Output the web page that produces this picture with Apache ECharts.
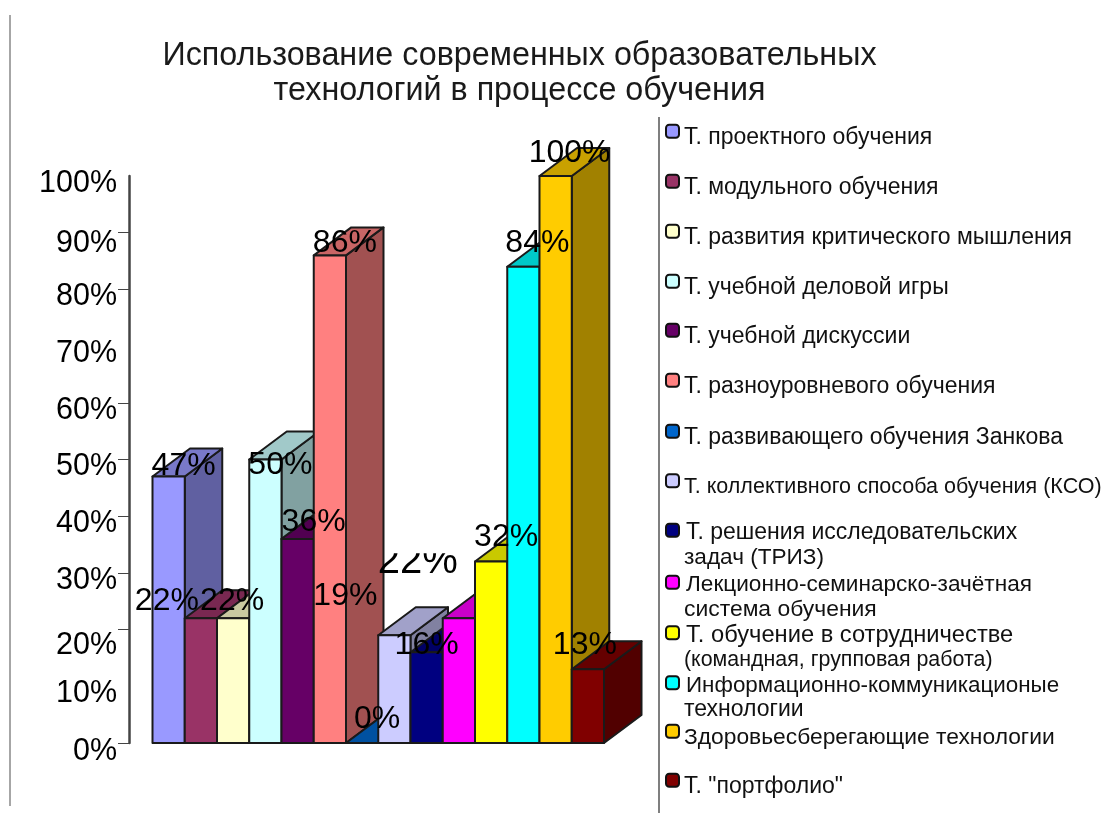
<!DOCTYPE html>
<html><head><meta charset="utf-8">
<style>html,body{margin:0;padding:0;background:#fff}#c{width:1120px;height:813px}</style>
<script src="https://cdn.jsdelivr.net/npm/echarts@6/dist/echarts.min.js"></script>
</head><body><div id="c"></div>
<script>
const titleText = 'Использование современных образовательных\nтехнологий в процессе обучения';
const categories = [
  'Т. проектного обучения','Т. модульного обучения','Т. развития критического мышления',
  'Т. учебной деловой игры','Т. учебной дискуссии','Т. разноуровневого обучения',
  'Т. развивающего обучения Занкова','Т. коллективного способа обучения (КСО)',
  'Т. решения исследовательских\nзадач (ТРИЗ)','Лекционно-семинарско-зачётная\nсистема обучения',
  'Т. обучение в сотрудничестве\n(командная, групповая работа)','Информационно-коммуникационые\nтехнологии',
  'Здоровьесберегающие технологии','Т. "портфолио"'];
const values = [47,22,22,50,36,86,0,19,16,22,32,84,100,13];
const colors = ['#9999FF','#993366','#FFFFCC','#CCFFFF','#660066','#FF8080','#0066CC','#CCCCFF','#000080','#FF00FF','#FFFF00','#00FFFF','#FFCC00','#800000'];

// layout, not data
const DEPTH_X = 37.5, DEPTH_Y = 28;
const labelNudge = [[15,-10],[-34,-17],[-1,-17],[15,6],[16,-17],[15,-12],[15,-24],[-49,-39],[0,-7],[-41,-56],[15,-24],[14,-24],[14,-23],[-3,-24]];
const legendMarkerY = [132,182,232,282,331,381,432,482,531,583,633,684,732,781];
const legendFont = [[23],[23],[23],[23],[23],[23],[23],[21.5],[23,22.6],[22.6,22.9],[23.7,21.4],[22.4,23],[22.8],[23]];

function shade(hex,k){const n=parseInt(hex.slice(1),16);
  return 'rgb('+[(n>>16)&255,(n>>8)&255,n&255].map(v=>Math.round(v*k)).join(',')+')';}

function barSeries(i){
  return {
    name: categories[i], type:'custom', coordinateSystem:'cartesian2d', clip:false, z:2,
    encode:{x:0,y:1}, data:[[i,values[i]]],
    renderItem(params,api){
      const w = api.size([1,0])[0];
      const top = api.coord([api.value(0),api.value(1)]);
      const base = api.coord([api.value(0),0]);
      const x0 = top[0]-w/2, x1 = top[0]+w/2, yT = top[1], yB = base[1];
      const line = {stroke:'#1a1a1a',lineWidth:2,lineJoin:'round'};
      const poly = (pts,fill)=>({type:'polygon',shape:{points:pts},style:Object.assign({fill},line)});
      return {type:'group',children:[
        poly([[x1,yB],[x1+DEPTH_X,yB-DEPTH_Y],[x1+DEPTH_X,yT-DEPTH_Y],[x1,yT]],shade(colors[i],0.63)),
        poly([[x0,yT],[x0+DEPTH_X,yT-DEPTH_Y],[x1+DEPTH_X,yT-DEPTH_Y],[x1,yT]],shade(colors[i],0.79)),
        poly([[x0,yB],[x1,yB],[x1,yT],[x0,yT]],colors[i])
      ]};
    }
  };
}
const labelSeries = {
  name:'подписи', type:'custom', coordinateSystem:'cartesian2d', clip:false, z:5, silent:true,
  encode:{x:0,y:1}, data:values.map((v,i)=>[i,v]),
  renderItem(params,api){
    const i = api.value(0), p = api.coord([i,api.value(1)]), big = i===9;
    const el = {type:'text',x:p[0]+labelNudge[i][0],y:p[1]+labelNudge[i][1],
      style:{text:api.value(1)+'%',fill:'#000',align:'center',verticalAlign:'middle',
        font:(big?40:32)+'px "Liberation Sans"'}};
    if(big) el.clipPath={type:'rect',shape:{x:-60,y:-9,width:120,height:50}};
    return el;
  }
};
const labelShift = {100:15,90:21,80:15,70:15,60:15,50:15,40:15,30:15,20:31,10:15,0:17};
const rich = {};
Object.keys(labelShift).forEach(k=>{rich['v'+k]={fontFamily:'Liberation Sans',fontSize:30.5,color:'#000',padding:[labelShift[k],0,0,0]};});

const LH = 24.5;
const legends = categories.map((name,i)=>{
  const lines = name.split('\n'), multi = lines.length>1, pad = multi?30:12;
  const base = {fontFamily:'Liberation Sans',color:'#111'};
  const r = {a:Object.assign({},base,{fontSize:legendFont[i][0],lineHeight:LH+pad,padding:[pad,0,0,multi?2:0]})};
  if(multi) r.b = Object.assign({},base,{fontSize:legendFont[i][1],lineHeight:LH});
  return {
    data:[name], orient:'horizontal', selectedMode:false, left:665,
    top: legendMarkerY[i]-((multi?LH*2:LH)+pad)/2, padding:0, itemWidth:13, itemHeight:13, itemGap:0,
    icon:'roundRect',
    itemStyle:{color:colors[i],borderColor:'#111',borderWidth:2},
    formatter:()=>multi?`{a|${lines[0]}}\n{b|${lines[1]}}`:`{a|${lines[0]}}`,
    textStyle:{rich:r}
  };
});

const chart = echarts.init(document.getElementById('c'),null,{renderer:'canvas'});
chart.setOption({
  animation:false, backgroundColor:'#fff',
  title:{text:titleText,left:514.5,top:34,textAlign:'center',
    textStyle:{fontFamily:'Liberation Sans',fontWeight:'normal',fontSize:32.3,lineHeight:35,color:'#1a1a1a'}},
  grid:{left:152.5,top:176,width:451.5,height:567},
  xAxis:{type:'category',data:categories,show:false},
  yAxis:{type:'value',min:0,max:100,interval:10,offset:23.5,
    axisLine:{show:true,lineStyle:{color:'#444',width:2.5}},
    axisTick:{show:true,length:11,customValues:[0,20,30,40,50,60,80,90],lineStyle:{color:'#444',width:1}},
    splitLine:{show:false},
    axisLabel:{margin:12,formatter:v=>'{v'+v+'|'+v+'%}',rich}},
  legend:legends,
  series:[...categories.map((_,i)=>barSeries(i)),labelSeries],
  graphic:[
    {type:'line',shape:{x1:10,y1:15,x2:10,y2:806},style:{stroke:'#888',lineWidth:1.5}},
    {type:'line',shape:{x1:659,y1:117,x2:659,y2:813},style:{stroke:'#555',lineWidth:1.5}}
  ]
});
</script></body></html>
